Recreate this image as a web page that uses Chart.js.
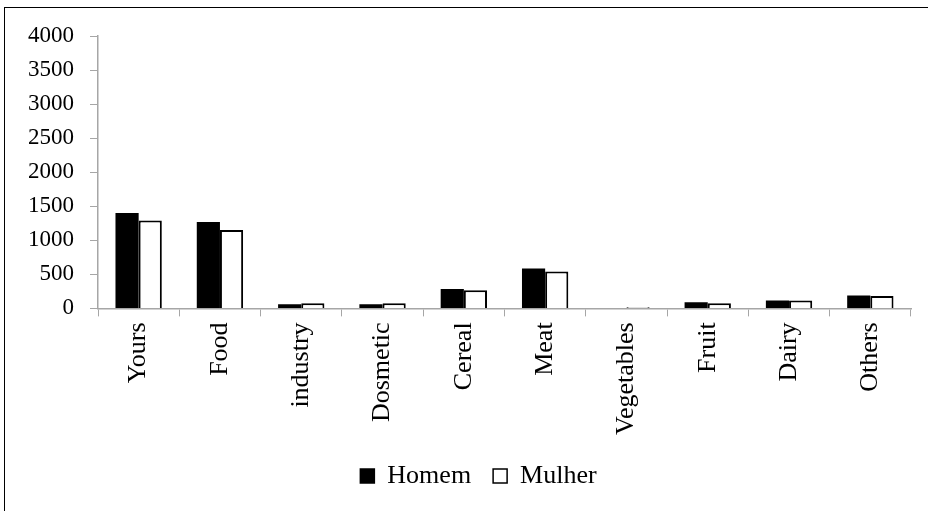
<!DOCTYPE html>
<html lang="pt">
<head>
  <meta charset="UTF-8" />
  <title>Homem / Mulher</title>
  <script src="https://cdn.jsdelivr.net/npm/chart.js"></script>
  <style>
    html, body {
      margin: 0; padding: 0;
      background: #fff;
      overflow: hidden;
    }
    #page {
      position: relative;
      width: 928px; height: 511px;
      overflow: hidden;
    }
    #frame {
      position: absolute;
      left: 4px; top: 7px;
      width: 3000px; height: 3000px;
      border-left: 1px solid #000;
      border-top: 1px solid #000;
    }
    #wrap {
      position: absolute;
      left: 0; top: 0;
      width: 928px; height: 511px;
    }
  </style>
</head>
<body>
  <div id="page">
    <div id="frame"></div>
    <div id="wrap"><canvas id="chartCanvas"></canvas></div>
  </div>

  <script>
    const categories = ["Yours", "Food", "industry", "Dosmetic", "Cereal", "Meat", "Vegetables", "Fruit", "Dairy", "Others"];
    const homem  = [1400, 1270, 60, 60, 285, 585, 5, 90, 115, 190];
    const mulher = [1290, 1150, 75, 75, 265, 540, 15, 75, 115, 180];
    const yTicks = [0, 500, 1000, 1500, 2000, 2500, 3000, 3500, 4000];

    const serif = "'Liberation Serif', 'Times New Roman', serif";
    const axisGray = "#a6a6a6";

    // legenda um pouco à direita, como no original
    const shiftLegend = {
      id: "shiftLegend",
      afterLayout(chart) {
        chart.legend.left += 23;
        chart.legend.right += 23;
      }
    };

    new Chart(document.getElementById("chartCanvas"), {
      type: "bar",
      data: {
        labels: categories,
        datasets: [
          { label: "Homem", data: homem, backgroundColor: "#000", borderColor: "#000", borderWidth: 0 },
          { label: "Mulher", data: mulher, backgroundColor: "#fff", borderColor: "#000", borderWidth: 2 }
        ]
      },
      plugins: [shiftLegend],
      options: {
        responsive: true,
        maintainAspectRatio: false,
        animation: false,
        layout: { padding: { top: 36, right: 17, left: 0, bottom: 12 } },
        datasets: { bar: { categoryPercentage: 0.57, barPercentage: 1 } },
        plugins: {
          tooltip: { enabled: false },
          legend: {
            position: "bottom",
            labels: {
              color: "#000",
              font: { family: serif, size: 26 },
              boxWidth: 14, boxHeight: 14,
              padding: 22,
              generateLabels: chart => chart.data.datasets.map((d, i) => ({
                text: d.label,
                fillStyle: d.backgroundColor,
                strokeStyle: "#000",
                lineWidth: 1.5,
                datasetIndex: i
              }))
            }
          }
        },
        scales: {
          x: {
            grid: { drawOnChartArea: false, color: axisGray, tickLength: 8, offset: true },
            border: { color: axisGray, width: 1.5 },
            ticks: {
              color: "#000",
              font: { family: serif, size: 26 },
              minRotation: 90, maxRotation: 90,
              padding: 6
            }
          },
          y: {
            min: 0, max: 4000,
            afterFit: s => { s.width = 98; },
            afterBuildTicks: s => { s.ticks = yTicks.map(v => ({ value: v })); },
            grid: { drawOnChartArea: false, color: axisGray, tickLength: 8 },
            border: { color: axisGray, width: 1.5 },
            ticks: {
              color: "#000",
              font: { family: serif, size: 23 },
              padding: 16,
              callback: v => String(v)
            }
          }
        }
      }
    });
  </script>
</body>
</html>
